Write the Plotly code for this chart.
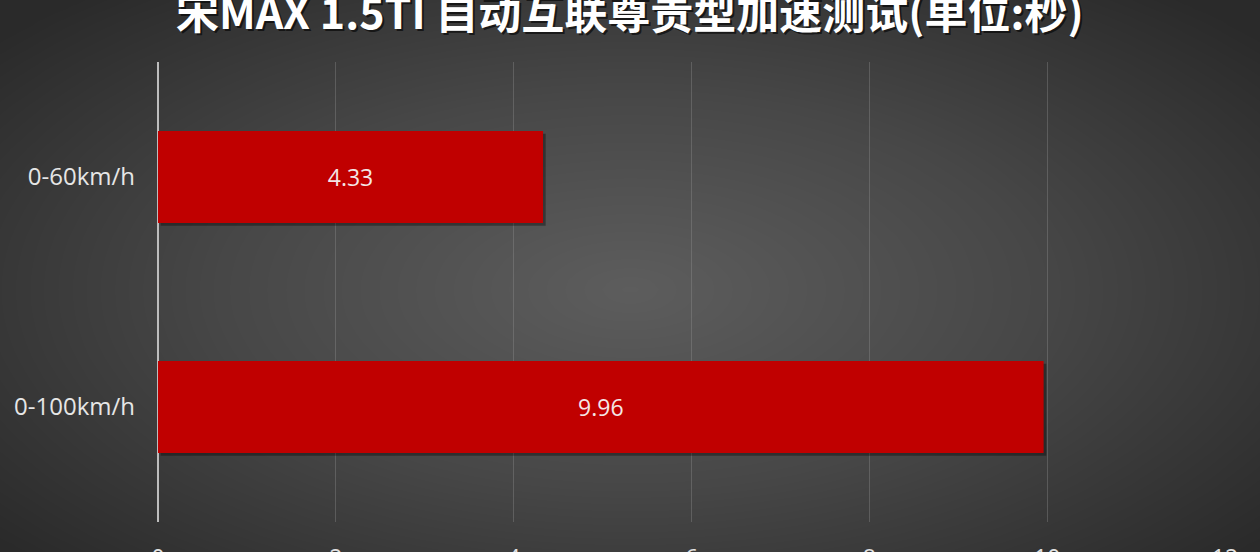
import numpy as np
import plotly.graph_objects as go

# data
categories = ["0-60km/h", "0-100km/h"]
times = [4.33, 9.96]
tick_vals = [0, 2, 4, 6, 8, 10, 12]
title_text = "宋MAX 1.5TI 自动互联尊贵型加速测试(单位:秒)"

# radial background (styling only)
gx = np.linspace(-1.1, 1.1, 130)
gy = np.linspace(-1.1, 1.1, 70)
X, Y = np.meshgrid(gx, gy)
R = np.sqrt((X / 1.0) ** 2 + ((Y + 0.05) / 1.1) ** 2)
bg = np.clip(R, 0, 1.3)

fig = go.Figure()

fig.add_trace(go.Heatmap(
    x=gx, y=gy, z=bg, zsmooth="best", showscale=False, hoverinfo="skip",
    colorscale=[[0, "#5d5d5d"], [0.5, "#474747"], [1, "#2a2a2a"]],
    zmin=0, zmax=1.3, xaxis="x", yaxis="y",
))

# bar shadow
fig.add_trace(go.Bar(
    y=categories, x=times, orientation="h", width=0.4,
    marker=dict(color="rgba(0,0,0,0.35)", line=dict(width=0)),
    offset=-0.2 + 0.012, base=0.03, hoverinfo="skip",
    xaxis="x2", yaxis="y2",
))

fig.add_trace(go.Bar(
    y=categories, x=times, orientation="h", width=0.4,
    marker=dict(color="#c00000", line=dict(width=0)),
    text=[f"{v:.2f}" for v in times], textposition="inside",
    insidetextanchor="middle",
    textfont=dict(family="Open Sans, Noto Sans", size=23, color="#f4e6e6"),
    xaxis="x2", yaxis="y2",
))

title_font = dict(family="Noto Sans CJK SC", size=43, color="#ffffff", weight="bold")

fig.update_layout(
    width=1260, height=552,
    margin=dict(l=0, r=0, t=0, b=0),
    paper_bgcolor="#2b2b2b",
    plot_bgcolor="rgba(0,0,0,0)",
    showlegend=False,
    barmode="overlay",
    xaxis=dict(domain=[0, 1], range=[-1, 1], visible=False, fixedrange=True),
    yaxis=dict(domain=[0, 1], range=[-1, 1], visible=False, fixedrange=True),
    xaxis2=dict(
        domain=[158 / 1260, 1225 / 1260], anchor="y2", range=[0, 12],
        tickvals=tick_vals, showgrid=True, gridcolor="rgba(150,150,150,0.35)",
        gridwidth=1, zeroline=True, zerolinecolor="#bdbdbd", zerolinewidth=1.5,
        showline=False, automargin=False,
        tickfont=dict(family="Open Sans, Noto Sans", size=23, color="#e0e0e0"),
        ticklabelstandoff=20,
    ),
    yaxis2=dict(
        domain=[1 - 522 / 552, 1 - 62 / 552], anchor="x2",
        autorange="reversed", showgrid=False, zeroline=False,
        showline=False, automargin=False,
        tickfont=dict(family="Open Sans, Noto Sans", size=24, color="#e6e6e6"),
        ticklabelstandoff=22,
    ),
    annotations=[
        dict(text=title_text, xref="paper", yref="paper", x=0.5, y=1 - 10 / 552,
             xanchor="center", yanchor="middle", showarrow=False, xshift=2, yshift=-2,
             font=dict(title_font, color="rgba(0,0,0,0.6)")),
        dict(text=title_text, xref="paper", yref="paper", x=0.5, y=1 - 10 / 552,
             xanchor="center", yanchor="middle", showarrow=False, font=title_font),
    ],
)

fig.write_html(
    "out.html",
    config={"displayModeBar": False},
    post_script="document.body.style.margin='0';document.body.style.background='#2b2b2b';",
)
